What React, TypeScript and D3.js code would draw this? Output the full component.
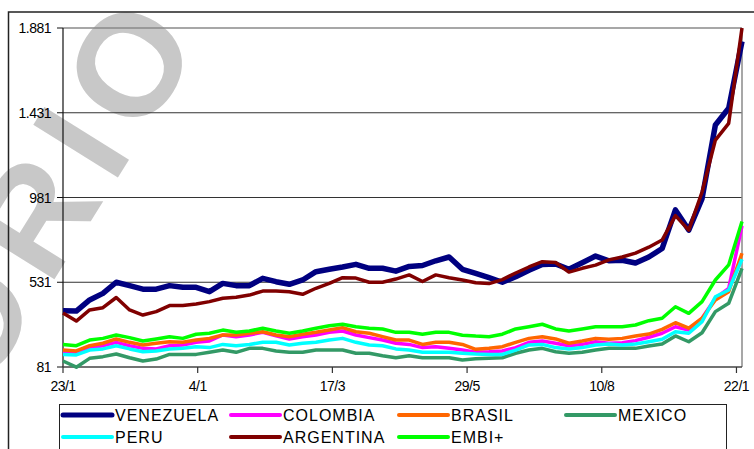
import { useEffect, useRef } from "react";
import * as d3 from "d3";

// category axis (days from first observation) and labels as printed
const tickDays = [ 0, 73, 146, 219, 292, 365 ];
const tickLabels = [ "23/1", "4/1", "17/3", "29/5", "10/8", "22/1" ];
const yTicks = [ 81, 531, 981, 1431, 1881 ];

const venezuela = [ 380, 378, 437, 472, 531, 513, 494, 494, 513, 504, 504, 481, 525, 513, 513, 552, 534, 520, 543, 587, 600, 612, 626, 605, 605, 590, 615, 620, 645, 665, 600, 578, 555, 531, 560, 595, 625, 628, 600, 635, 670, 645, 648, 633, 665, 710, 915, 808, 975, 1366, 1455, 1810 ];
const colombia = [ 162, 159, 184, 194, 212, 194, 180, 177, 194, 198, 212, 219, 251, 242, 251, 265, 247, 230, 242, 251, 265, 272, 251, 237, 224, 207, 201, 184, 189, 180, 171, 160, 162, 166, 184, 212, 219, 207, 194, 201, 215, 207, 210, 221, 239, 260, 295, 277, 340, 446, 499, 830 ];
const brasil = [ 171, 166, 194, 207, 230, 212, 198, 207, 215, 212, 224, 233, 251, 251, 260, 268, 251, 242, 255, 265, 277, 290, 268, 260, 242, 224, 224, 201, 212, 212, 201, 175, 180, 189, 212, 233, 242, 230, 207, 219, 233, 228, 233, 246, 256, 281, 316, 287, 340, 437, 481, 685 ];
const mexico = [ 113, 80, 127, 136, 150, 130, 113, 123, 148, 148, 148, 159, 171, 159, 180, 180, 166, 159, 159, 171, 171, 171, 154, 154, 141, 130, 141, 130, 130, 130, 118, 125, 127, 130, 154, 171, 180, 162, 154, 159, 171, 180, 180, 180, 193, 203, 246, 215, 263, 375, 419, 605 ];
const peru = [ 148, 145, 171, 177, 194, 177, 162, 166, 177, 180, 189, 184, 201, 194, 201, 212, 212, 198, 207, 212, 224, 233, 212, 198, 194, 177, 171, 159, 159, 159, 154, 150, 148, 148, 171, 198, 201, 184, 177, 184, 198, 203, 198, 203, 215, 228, 268, 260, 322, 454, 490, 653 ];
const argentina = [ 368, 325, 384, 396, 450, 384, 357, 375, 407, 407, 416, 428, 446, 451, 463, 484, 484, 481, 467, 499, 525, 555, 553, 531, 531, 548, 570, 535, 570, 555, 543, 528, 524, 545, 580, 612, 640, 636, 585, 605, 622, 650, 665, 686, 717, 755, 885, 808, 1010, 1286, 1375, 1881 ];
const embi = [ 201, 194, 224, 233, 251, 237, 219, 230, 242, 233, 255, 260, 277, 265, 272, 287, 272, 260, 272, 287, 300, 308, 295, 287, 283, 265, 265, 255, 265, 265, 250, 245, 242, 255, 283, 295, 308, 283, 272, 283, 295, 295, 295, 304, 327, 340, 401, 366, 428, 543, 623, 853 ];

const seriesNames = [ "VENEZUELA", "COLOMBIA", "BRASIL", "MEXICO", "PERU", "ARGENTINA", "EMBI+" ];
const seriesValues = [ venezuela, colombia, brasil, mexico, peru, argentina, embi ];
const seriesColors = [ "#000080", "#ff00ff", "#ff6600", "#339966", "#00ffff", "#800000", "#00ff00" ];

const FONT = "'Liberation Sans', Arial, sans-serif";
const W = 754, H = 449;

export default function App ()
{
    const svgRef = useRef<SVGSVGElement>( null );

    useEffect( () =>
    {
        if ( !svgRef.current ) return;
        const svg = d3.select( svgRef.current );
        svg.selectAll( "*" ).remove();

        const m = { left: 63, top: 28, right: 742, bottom: 367 };
        const lastDay = 368;
        const step = lastDay / ( venezuela.length - 1 );

        const x = d3.scaleLinear().domain( [ 0, lastDay ] ).range( [ m.left, m.right ] );
        const y = d3.scaleLinear().domain( [ 81, 1881 ] ).range( [ m.bottom, m.top ] );
        const fmt = d3.formatLocale( { decimal: ",", thousands: ".", grouping: [ 3 ], currency: [ "", "" ] } ).format( ",d" );

        // watermark
        svg.append( "text" )
            .attr( "transform", "translate(164,2) rotate(-58)" )
            .attr( "x", 0 ).attr( "y", 54 )
            .attr( "text-anchor", "end" )
            .attr( "letter-spacing", 15 )
            .attr( "fill", "#c8c8c8" )
            .style( "font-family", FONT ).style( "font-weight", "bold" ).style( "font-size", "145px" )
            .text( "PROVISORIO" );

        // outer frame
        svg.append( "rect" ).attr( "x", 8.5 ).attr( "y", 12 ).attr( "width", 800 ).attr( "height", 500 )
            .attr( "fill", "none" ).attr( "stroke", "#222" ).attr( "stroke-width", 1.5 );

        // grid
        svg.append( "g" ).selectAll( "line" ).data( yTicks.slice( 1 ) ).join( "line" )
            .attr( "x1", m.left ).attr( "x2", m.right )
            .attr( "y1", ( d ) => y( d ) ).attr( "y2", ( d ) => y( d ) )
            .attr( "stroke", ( d ) => d === 1881 ? "#8a8a8a" : "#333" ).attr( "stroke-width", ( d ) => d === 1881 ? 1.5 : 1 );

        // plot border right
        svg.append( "line" ).attr( "x1", m.right ).attr( "x2", m.right ).attr( "y1", m.top ).attr( "y2", m.bottom )
            .attr( "stroke", "#8a8a8a" ).attr( "stroke-width", 1.5 );

        // axes
        svg.append( "line" ).attr( "x1", m.left ).attr( "x2", m.left ).attr( "y1", m.top ).attr( "y2", m.bottom )
            .attr( "stroke", "#111" ).attr( "stroke-width", 1.2 );
        svg.append( "line" ).attr( "x1", m.left ).attr( "x2", m.right ).attr( "y1", m.bottom ).attr( "y2", m.bottom )
            .attr( "stroke", "#444" ).attr( "stroke-width", 1.5 );

        const yAx = svg.append( "g" );
        yAx.selectAll( "line" ).data( yTicks ).join( "line" )
            .attr( "x1", m.left - 6 ).attr( "x2", m.left ).attr( "y1", ( d ) => y( d ) ).attr( "y2", ( d ) => y( d ) )
            .attr( "stroke", "#111" );
        yAx.selectAll( "text" ).data( yTicks ).join( "text" )
            .attr( "x", m.left - 12 ).attr( "y", ( d ) => y( d ) ).attr( "dy", "0.36em" )
            .attr( "text-anchor", "end" ).attr( "fill", "#000" )
            .style( "font-family", FONT ).style( "font-size", "14px" ).style( "letter-spacing", "-0.5px" )
            .text( ( d ) => fmt( d ) );

        const xAx = svg.append( "g" );
        xAx.selectAll( "line" ).data( tickDays ).join( "line" )
            .attr( "x1", ( d ) => x( d ) ).attr( "x2", ( d ) => x( d ) ).attr( "y1", m.bottom ).attr( "y2", m.bottom + 6 )
            .attr( "stroke", "#333" ).attr( "stroke-width", 1.2 );
        xAx.selectAll( "text" ).data( tickDays ).join( "text" )
            .attr( "x", ( d ) => x( d ) ).attr( "y", 391 )
            .attr( "text-anchor", "middle" ).attr( "fill", "#000" )
            .style( "font-family", FONT ).style( "font-size", "14px" ).style( "letter-spacing", "-0.5px" )
            .text( ( d, i ) => tickLabels[ i ] );

        // lines
        const line = d3.line<number>().x( ( d, i ) => x( i * step ) ).y( ( d ) => y( d ) );
        seriesValues.forEach( ( vals, k ) =>
        {
            svg.append( "path" ).datum( vals ).attr( "d", line )
                .attr( "fill", "none" ).attr( "stroke", seriesColors[ k ] )
                .attr( "stroke-width", k === 0 ? 5.5 : 3.5 ).attr( "stroke-linejoin", "round" );
        } );

        // legend
        const lg = svg.append( "g" );
        lg.append( "rect" ).attr( "x", 59.5 ).attr( "y", 404.5 ).attr( "width", 667 ).attr( "height", 60 )
            .attr( "fill", "none" ).attr( "stroke", "#222" );
        const colX = [ 63, 231, 399, 566 ];
        const rowY = [ 415, 437 ];
        seriesNames.forEach( ( name, k ) =>
        {
            const cx = colX[ k % 4 ], cy = rowY[ Math.floor( k / 4 ) ];
            lg.append( "line" ).attr( "x1", cx ).attr( "x2", cx + 49 ).attr( "y1", cy ).attr( "y2", cy )
                .attr( "stroke", seriesColors[ k ] ).attr( "stroke-width", k === 0 ? 5 : 4 ).attr( "stroke-linecap", "round" );
            lg.append( "text" ).attr( "x", cx + 52 ).attr( "y", cy ).attr( "dy", "0.36em" ).attr( "fill", "#000" )
                .style( "font-family", FONT ).style( "font-size", "16px" ).style( "letter-spacing", "1px" )
                .text( name );
        } );
    }, [] );

    return (
        <svg ref={ svgRef } width={ W } height={ H }
            style={ { position: "absolute", left: 0, top: 0, background: "#fff", overflow: "hidden" } } />
    );
}
